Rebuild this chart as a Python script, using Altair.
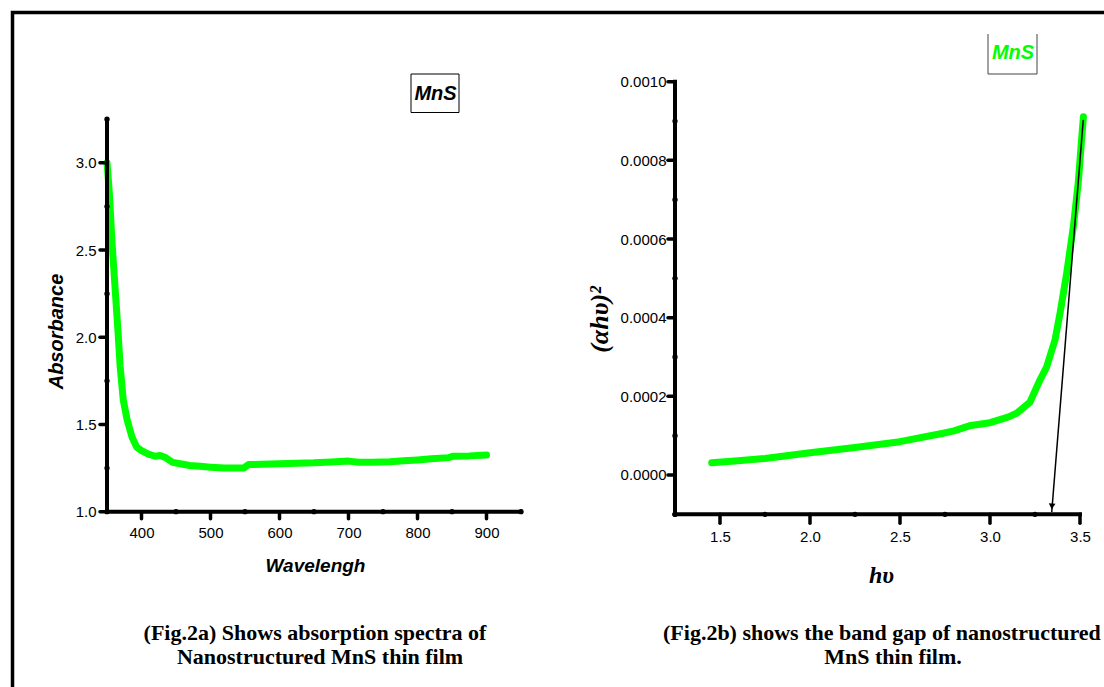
import altair as alt
import pandas as pd

# ---------------- data ----------------
wavelength = [350, 352, 354, 357, 361.6, 366, 369, 373.6, 379, 386, 393, 400, 410, 420,
              427, 435, 445, 456, 470, 485, 500, 520, 540, 548, 555, 575, 600, 625,
              650, 675, 700, 715, 735, 760, 780, 800, 820, 845, 852, 875, 900]
absorbance = [3.00, 2.90, 2.79, 2.56, 2.29, 2.03, 1.835, 1.64, 1.53, 1.43, 1.37, 1.35, 1.33, 1.318,
              1.322, 1.31, 1.283, 1.275, 1.265, 1.26, 1.255, 1.25, 1.25, 1.25, 1.27, 1.272, 1.275, 1.278,
              1.28, 1.285, 1.29, 1.283, 1.283, 1.287, 1.292, 1.297, 1.303, 1.31, 1.318, 1.32, 1.325]

hv = [1.454, 1.6, 1.75, 2.0, 2.25, 2.5, 2.74, 2.8, 2.885, 3.0, 3.1, 3.148, 3.222, 3.278,
      3.315, 3.361, 3.389, 3.426, 3.463, 3.49, 3.5, 3.51, 3.519]
ahv2 = [0.0000313, 0.000036, 0.000042, 0.0000567, 0.000070, 0.0000847, 0.000106, 0.000112,
        0.000125, 0.000133, 0.000147, 0.000157, 0.000185, 0.000242, 0.000275, 0.000343,
        0.000411, 0.000513, 0.000631, 0.000742, 0.000800, 0.000860, 0.000911]

# tangent (extrapolation arrow) end points
arrow_hv = [3.518, 3.343]
arrow_ahv2 = [0.000903, -0.0000941]
head_hv = [3.344]
head_ahv2 = [-0.0000800]

# axis extents and ticks
left_x_range = [350, 950]
left_y_range = [1.0, 3.25]
right_x_range = [1.25, 3.5]
right_y_range = [-0.0001, 0.0010]
left_x_major = [400, 500, 600, 700, 800, 900]
left_x_minor = [350, 450, 550, 650, 750, 850, 950]
left_y_major = [1.0, 1.5, 2.0, 2.5, 3.0]
left_y_minor = [1.25, 1.75, 2.25, 2.75, 3.25]
right_x_major = [1.5, 2.0, 2.5, 3.0, 3.5]
right_x_minor = [1.25, 1.75, 2.25, 2.75, 3.25]
right_y_major = [0.0, 0.0002, 0.0004, 0.0006, 0.0008, 0.0010]
right_y_minor = [-0.0001, 0.0001, 0.0003, 0.0005, 0.0007, 0.0009]

caption_a = ["(Fig.2a) Shows absorption spectra of", "Nanostructured MnS thin film"]
caption_b = ["(Fig.2b) shows the band gap of nanostructured", "MnS thin film."]

GREEN = "#00ff00"
SANS = "Liberation Sans"
SERIF = "Liberation Serif"

axis_style = dict(grid=False, domain=False, ticks=False, tickSize=0,
                  labelFont=SANS, labelFontSize=15, labelColor="black",
                  labelFlush=False, labelOverlap=False, titleColor="black")


def panel(line_df, xf, yf, xr, yr, x_major, x_minor, y_major, y_minor, X, Y, px, extra=()):
    """Curve + axis lines, major ticks and minor dots, all on the panel's shared scales.
    px = (x pixels per unit, y pixels per unit, x tick length px, y tick length px)"""
    xppu, yppu, xlen, ylen = px
    axes_df = pd.DataFrame({
        xf: [xr[0], xr[0]], xf + "_e": [xr[1], xr[0]],
        yf: [yr[0], yr[0]], yf + "_e": [yr[0], yr[1]],
    })
    dy = xlen / yppu
    dx = ylen / xppu
    xt_df = pd.DataFrame({xf: x_major, xf + "_e": x_major,
                          yf: [yr[0]] * len(x_major), yf + "_e": [yr[0] - dy] * len(x_major)})
    yt_df = pd.DataFrame({xf: [xr[0]] * len(y_major), xf + "_e": [xr[0] - dx] * len(y_major),
                          yf: y_major, yf + "_e": y_major})
    dots_df = pd.DataFrame({xf: x_minor + [xr[0]] * len(y_minor),
                            yf: [yr[0]] * len(x_minor) + y_minor})
    curve = alt.Chart(line_df).mark_line(color=GREEN, strokeWidth=7, strokeCap="round",
                                         strokeJoin="round").encode(x=X, y=Y)
    axes = alt.Chart(axes_df).mark_rule(color="black", strokeWidth=4, strokeCap="square").encode(
        x=X, x2=alt.X2(xf + "_e"), y=Y, y2=alt.Y2(yf + "_e"))
    xt = alt.Chart(xt_df).mark_rule(color="black", strokeWidth=3.5, strokeCap="round").encode(
        x=X, x2=alt.X2(xf + "_e"), y=Y, y2=alt.Y2(yf + "_e"))
    yt = alt.Chart(yt_df).mark_rule(color="black", strokeWidth=3.5, strokeCap="round").encode(
        x=X, x2=alt.X2(xf + "_e"), y=Y, y2=alt.Y2(yf + "_e"))
    dots = alt.Chart(dots_df).mark_circle(color="black", size=28, opacity=1).encode(x=X, y=Y)
    return alt.layer(curve, *extra, axes, xt, yt, dots)


# ---------------- left panel ----------------
LX_RANGE = [107, 521]
LY_RANGE = [511.7, 119.2]
left_df = pd.DataFrame({"wavelength": wavelength, "absorbance": absorbance})
lx = alt.X("wavelength:Q",
           scale=alt.Scale(domain=left_x_range, range=LX_RANGE, nice=False, zero=False),
           axis=alt.Axis(orient="bottom", offset=-175.3, values=left_x_major, format="d",
                         labelPadding=14,
                         title="Wavelengh", titleX=315, titleY=54, titleBaseline="middle",
                         titleFont=SANS, titleFontSize=19, titleFontWeight="bold",
                         titleFontStyle="italic", **axis_style))
ly = alt.Y("absorbance:Q",
           scale=alt.Scale(domain=left_y_range, range=LY_RANGE, nice=False, zero=False),
           axis=alt.Axis(orient="left", offset=-107, values=left_y_major, format=".1f",
                         labelPadding=11,
                         title="Absorbance", titleX=-51, titleY=331, titleAngle=270,
                         titleAlign="center", titleBaseline="middle",
                         titleFont=SANS, titleFontSize=20, titleFontWeight="bold",
                         titleFontStyle="italic", **axis_style))
left_px = ((LX_RANGE[1] - LX_RANGE[0]) / (left_x_range[1] - left_x_range[0]),
           (LY_RANGE[0] - LY_RANGE[1]) / (left_y_range[1] - left_y_range[0]), 7, 7)
left_group = panel(left_df, "wavelength", "absorbance", left_x_range, left_y_range,
                   left_x_major, left_x_minor, left_y_major, left_y_minor, lx, ly, left_px)

# ---------------- right panel ----------------
RX_RANGE = [675, 1080]
RY_RANGE = [514.3, 81.7]
right_df = pd.DataFrame({"hv": hv, "ahv2": ahv2})
arrow_df = pd.DataFrame({"hv": arrow_hv, "ahv2": arrow_ahv2})
head_df = pd.DataFrame({"hv": head_hv, "ahv2": head_ahv2})
rx = alt.X("hv:Q",
           scale=alt.Scale(domain=right_x_range, range=RX_RANGE, nice=False, zero=False),
           axis=alt.Axis(orient="bottom", offset=-173.7, values=right_x_major, format=".1f",
                         labelPadding=16,
                         title="hυ", titleX=881, titleY=62, titleBaseline="middle",
                         titleFont=SERIF, titleFontSize=24, titleFontWeight="bold",
                         titleFontStyle="italic", **axis_style))
ry = alt.Y("ahv2:Q",
           scale=alt.Scale(domain=right_y_range, range=RY_RANGE, nice=False, zero=False),
           axis=alt.Axis(orient="left", offset=-676, values=right_y_major, format=".4f",
                         labelPadding=10,
                         title="(αhυ)²", titleX=-77, titleY=319, titleAngle=270,
                         titleAlign="center", titleBaseline="middle",
                         titleFont=SERIF, titleFontSize=26, titleFontWeight="bold",
                         titleFontStyle="italic", **axis_style))
arrow_line = alt.Chart(arrow_df).mark_line(color="black", strokeWidth=1.5).encode(x=rx, y=ry)
arrow_head = alt.Chart(head_df).mark_point(shape="triangle-down", filled=True, size=45,
                                           angle=5, color="black", opacity=1).encode(x=rx, y=ry)
right_px = ((RX_RANGE[1] - RX_RANGE[0]) / (right_x_range[1] - right_x_range[0]),
            (RY_RANGE[0] - RY_RANGE[1]) / (right_y_range[1] - right_y_range[0]), 9, 7)
right_group = panel(right_df, "hv", "ahv2", right_x_range, right_y_range,
                    right_x_major, right_x_minor, right_y_major, right_y_minor, rx, ry, right_px,
                    extra=(arrow_line, arrow_head))

# ---------------- decorations ----------------
one = pd.DataFrame({"k": [0]})

frame = alt.Chart(one).mark_rect(fill="white", fillOpacity=0, stroke="black", strokeWidth=3.5).encode(
    x=alt.value(12.5), x2=alt.value(1160), y=alt.value(12.5), y2=alt.value(760))

box_a = alt.Chart(one).mark_rect(fill="white", stroke="black", strokeWidth=1).encode(
    x=alt.value(411), x2=alt.value(459), y=alt.value(74), y2=alt.value(112.5))
label_a = alt.Chart(one).mark_text(text="MnS", font=SANS, fontSize=20, fontWeight="bold",
                                   fontStyle="italic", color="black", align="center",
                                   baseline="middle").encode(x=alt.value(435.5), y=alt.value(94))

box_b_left = alt.Chart(one).mark_rule(color="#444444", strokeWidth=1).encode(
    x=alt.value(988), y=alt.value(34), y2=alt.value(74))
box_b_right = alt.Chart(one).mark_rule(color="#444444", strokeWidth=1).encode(
    x=alt.value(1037), y=alt.value(34), y2=alt.value(74))
box_b_bottom = alt.Chart(one).mark_rule(color="#444444", strokeWidth=1).encode(
    x=alt.value(988), x2=alt.value(1037), y=alt.value(74))
label_b = alt.Chart(one).mark_text(text="MnS", font=SANS, fontSize=20, fontWeight="bold",
                                   fontStyle="italic", color=GREEN, align="center",
                                   baseline="middle").encode(x=alt.value(1013), y=alt.value(53))

cap_style = dict(font=SERIF, fontSize=22, fontWeight="bold", color="black", baseline="middle")
cap_a1 = alt.Chart(one).mark_text(text=caption_a[0], align="center", **cap_style).encode(
    x=alt.value(315), y=alt.value(633))
cap_a2 = alt.Chart(one).mark_text(text=caption_a[1], align="center", **cap_style).encode(
    x=alt.value(320), y=alt.value(657))
cap_b1 = alt.Chart(one).mark_text(text=caption_b[0], align="left", **cap_style).encode(
    x=alt.value(663), y=alt.value(633))
cap_b2 = alt.Chart(one).mark_text(text=caption_b[1], align="center", **cap_style).encode(
    x=alt.value(893), y=alt.value(657))

chart = alt.layer(
    frame, box_a, label_a, box_b_left, box_b_right, box_b_bottom, label_b,
    cap_a1, cap_a2, cap_b1, cap_b2,
    left_group, right_group,
).resolve_scale(x="independent", y="independent").properties(
    width=1104, height=687, padding=0,
    autosize=alt.AutoSizeParams(type="none"),
    background="white",
).configure_view(strokeWidth=0)

chart.save("out.html", embed_options={"renderer": "svg", "actions": False})
